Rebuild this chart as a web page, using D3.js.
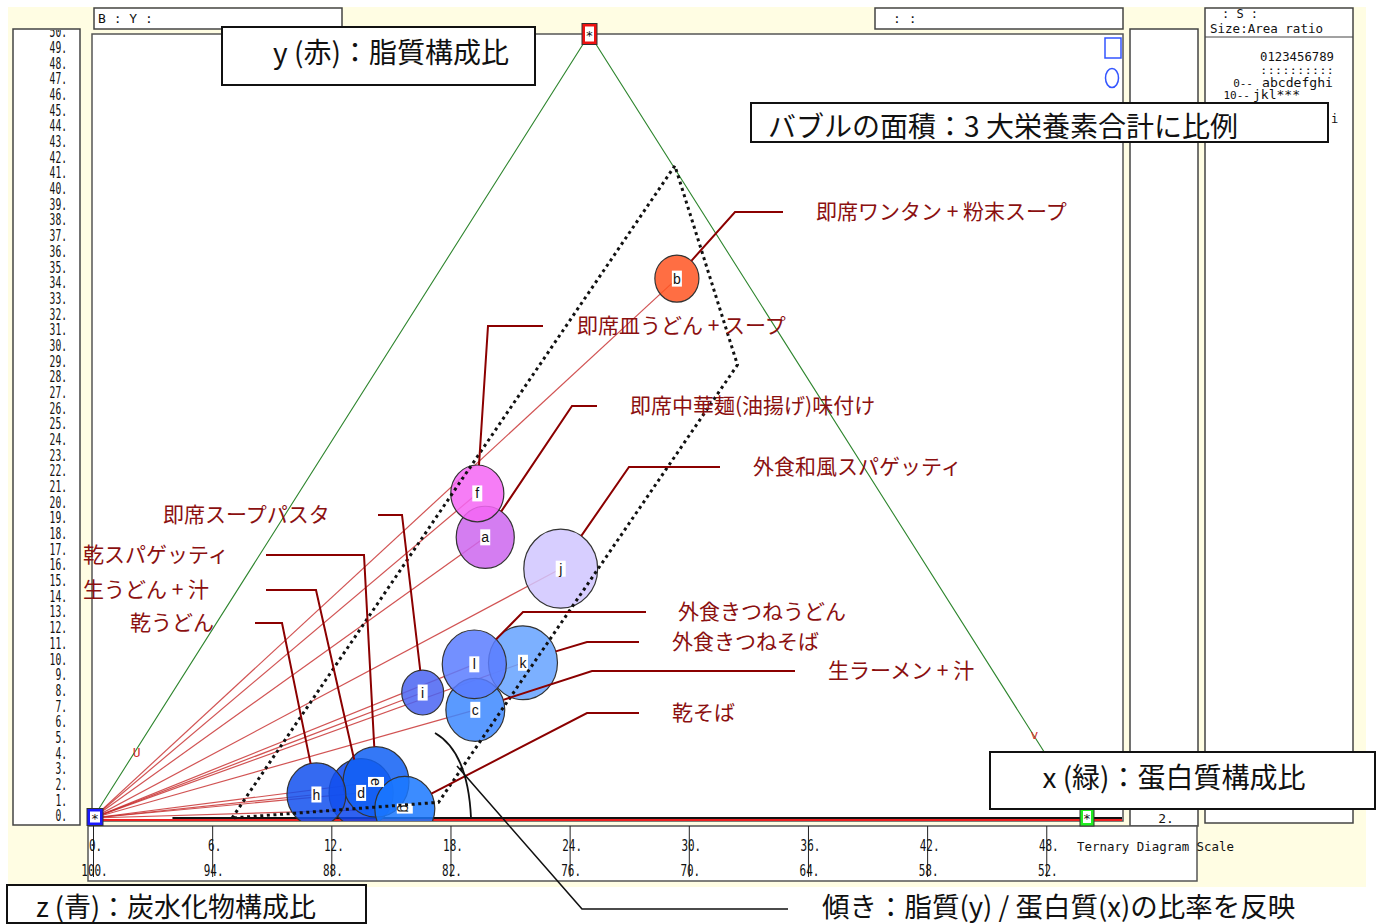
<!DOCTYPE html>
<html>
<head>
<meta charset="utf-8">
<script src="https://cdn.jsdelivr.net/npm/d3@7"></script>
<style>
  body { margin: 0; background: #fff; }
  svg { display: block; }
</style>
</head>
<body>
<div id="chart"></div>
<script>
// 三角図（蛋白質 x・脂質 y・炭水化物 z の構成比）: データ
const codes   = ['a', 'b', 'c', 'd', 'e', 'f', 'g', 'h', 'i', 'j', 'k', 'l'];
const foods   = ['即席中華麺(油揚げ)味付け', '即席ワンタン + 粉末スープ', '生ラーメン + 汁', '生うどん + 汁',
                 '乾スパゲッティ', '即席皿うどん + スープ', '乾そば', '乾うどん', '即席スープパスタ',
                 '外食和風スパゲッティ', '外食きつねそば', '外食きつねうどん'];
const protein = [10.8, 12.2, 15.8, 12.7, 13.1, 9.0, 15.4, 10.5, 12.6, 15.6, 16.7, 14.3];   // x (%)
const fat     = [17.9, 34.4, 6.9, 1.6, 2.3, 20.7, 0.6, 1.5, 8.0, 15.9, 9.9, 9.8];        // y (%)
const nutrientTotal = [73, 42, 75, 89, 94, 61, 78, 75, 38, 118, 103, 89];            // バブル面積

const xTickValues = [0, 6, 12, 18, 24, 30, 36, 42, 48];
const yTickValues = d3.range(0, 51);
// 点線で囲んだ領域 (蛋白質, 脂質)
const regionProtein = [7.0, 8.5, 18.0, 16.9];
const regionFat     = [0, 41.6, 28.9, 1.0];
// 三角形の辺上の印
const edgeMarkText    = ['U', 'v'];
const edgeMarkProtein = [0, 44.65];
const edgeMarkFat     = [4.2, 5.3];

// 配色（スタイル）
const bubbleColors = ['#cc66ee', '#ff5522', '#3d88ff', '#0a45ee', '#1060f5', '#f466f4',
                      '#1a78ff', '#1250ee', '#4a64f2', '#d0c6ff', '#65a2ff', '#5a7cff'];
const labelRed = '#8b1010';

// ラベル配置（レイアウト）: 文字の左端, 線の高さ, 水平線の始点, 折れ点
const callouts = {
  b: { tx: 816, ly: 212, hx: 783, ex: 735 },
  f: { tx: 577, ly: 326, hx: 543, ex: 488 },
  a: { tx: 630, ly: 406, hx: 597, ex: 572 },
  j: { tx: 753, ly: 467, hx: 720, ex: 629 },
  i: { tx: 163, ly: 515, hx: 378, ex: 402 },
  e: { tx: 83,  ly: 555, hx: 266, ex: 364 },
  d: { tx: 83,  ly: 590, hx: 266, ex: 316 },
  h: { tx: 130, ly: 623, hx: 255, ex: 282 },
  l: { tx: 678, ly: 612, hx: 646, ex: 523 },
  k: { tx: 672, ly: 642, hx: 639, ex: 587 },
  c: { tx: 828, ly: 671, hx: 795, ex: 592 },
  g: { tx: 672, ly: 713, hx: 639, ex: 587 }
};

const W = 1383, H = 924;
const mono = '"DejaVu Sans Mono", "Liberation Mono", monospace';
const jp = '"Noto Sans CJK JP", "Noto Sans", sans-serif';

const data = codes.map((c, i) => ({
  code: c, name: foods[i], protein: protein[i], fat: fat[i], total: nutrientTotal[i],
  color: bubbleColors[i]
}));

const svg = d3.select('#chart').append('svg')
  .attr('width', W).attr('height', H)
  .style('font-family', jp);

// 背景
svg.append('rect').attr('width', W).attr('height', H).attr('fill', '#fff');
svg.append('rect').attr('x', 8).attr('y', 7).attr('width', 1358).attr('height', 880).attr('fill', '#fffde3');

// スケール（三角図：横 = x + y/2, 縦 = y）
const x = d3.scaleLinear().domain([0, 50]).range([93, 1086]);
const y = d3.scaleLinear().domain([0, 50]).range([818, 34]);
const r = d3.scaleSqrt().domain([0, 100]).range([0, 34]);
const tx = (p, f) => x(p + f / 2);
const ty = f => y(f);

// パネル枠
function frame(x0, y0, w, h, stroke) {
  return svg.append('rect').attr('x', x0).attr('y', y0).attr('width', w).attr('height', h)
    .attr('fill', '#fff').attr('stroke', stroke || '#444').attr('stroke-width', 1.5);
}
frame(13, 29, 67, 796);
frame(92, 34, 1031, 787, '#555');
frame(1130, 29, 68, 797);
frame(1205, 8, 148, 815);
svg.append('line').attr('x1', 1205).attr('x2', 1353).attr('y1', 37).attr('y2', 37).attr('stroke', '#444');
frame(94, 8, 248, 21);
frame(875, 8, 248, 21);
frame(88, 826, 1109, 55, '#555');

// 細い等幅文字（縦長のビットマップ風に横を詰める）
function squeeze(sel, perChar) {
  sel.each(function () {
    const n = this.textContent.length;
    d3.select(this).attr('textLength', n * perChar).attr('lengthAdjust', 'spacingAndGlyphs');
  });
  return sel;
}

// ヘッダー等の小さい文字
const monoText = (xx, yy, t, size, anchor) => svg.append('text')
  .attr('x', xx).attr('y', yy).attr('dy', '0.35em')
  .attr('text-anchor', anchor || 'start')
  .style('font-family', mono).style('font-size', (size || 12) + 'px').attr('fill', '#111').text(t);
const fit = (sel, len) => sel.attr('textLength', len).attr('lengthAdjust', 'spacingAndGlyphs');
monoText(98, 18, 'B : Y :', 13);
monoText(893, 18, ':   :', 13);
monoText(1240, 14, ': S :', 12, 'middle');
fit(monoText(1210, 28, 'Size:Area ratio', 13), 113);
fit(monoText(1260, 57, '0123456789', 12), 74);
fit(monoText(1260, 70, '::::::::::', 10), 74);
monoText(1253, 83, '0--', 11, 'end');
fit(monoText(1262, 83, 'abcdefghi', 11.5), 71);
monoText(1250, 95, '10--', 11, 'end');
fit(monoText(1253, 95, 'jkl***', 11.5), 47);
monoText(1331, 119, 'i', 12);
monoText(1166, 818, '2.', 13, 'middle');
fit(monoText(1077, 846, 'Ternary Diagram Scale', 13), 157);

// 左の縦軸（脂質 0〜50）
svg.append('clipPath').attr('id', 'leftClip')
  .append('rect').attr('x', 13).attr('y', 30).attr('width', 67).attr('height', 795);
const yAxis = svg.append('g')
  .attr('clip-path', 'url(#leftClip)')
  .append('g')
  .attr('transform', 'translate(70,-2)')
  .call(d3.axisLeft(y).tickValues(yTickValues).tickSize(0).tickPadding(3).tickFormat(d => d + '.'));
yAxis.select('.domain').remove();
yAxis.selectAll('text')
  .style('font-family', mono).style('font-size', '15px')
  .attr('fill', '#111');
squeeze(yAxis.selectAll('text'), 5.8);

// 下の軸（x：蛋白質 / z：炭水化物）
const xAxis = svg.append('g')
  .attr('transform', 'translate(0,826)')
  .call(d3.axisBottom(x).tickValues(xTickValues).tickSize(51).tickFormat(d => d + '.'));
xAxis.select('.domain').remove();
xAxis.selectAll('.tick line').attr('stroke', '#222');
xAxis.selectAll('.tick text').attr('y', 20).attr('dy', '0.35em').attr('dx', 2);
xAxis.selectAll('.tick').append('text')
  .attr('y', 45).attr('dy', '0.35em').attr('dx', 1)
  .attr('text-anchor', 'middle')
  .text(d => (100 - d) + '.');
xAxis.selectAll('text')
  .style('font-family', mono).style('font-size', '15px')
  .attr('fill', '#111');
squeeze(xAxis.selectAll('text'), 6.6);

// プロット領域
svg.append('clipPath').attr('id', 'plotClip')
  .append('rect').attr('x', 93).attr('y', 35).attr('width', 1029).attr('height', 786);
const plot = svg.append('g').attr('clip-path', 'url(#plotClip)');

// 三角形の辺（緑）
const apex = [tx(0, 50), ty(50)], left = [tx(0, 0), ty(0)], right = [tx(50, 0), ty(0)];
plot.append('path')
  .attr('d', d3.line()([left, apex, right]))
  .attr('fill', 'none').attr('stroke', '#2f862f').attr('stroke-width', 1.1);

// 底辺（赤・黒）
plot.append('line')
  .attr('x1', x(4)).attr('x2', 1122).attr('y1', y(0)).attr('y2', y(0))
  .attr('stroke', '#111').attr('stroke-width', 2);
plot.append('line')
  .attr('x1', x(0)).attr('x2', 1122).attr('y1', y(0) + 2).attr('y2', y(0) + 2)
  .attr('stroke', '#ee2222').attr('stroke-width', 2);

// 原点からの傾き線
plot.selectAll('.ray')
  .data(data)
  .enter()
  .append('line')
  .attr('class', 'ray')
  .attr('x1', x(0)).attr('y1', y(0))
  .attr('x2', d => tx(d.protein, d.fat)).attr('y2', d => ty(d.fat))
  .attr('stroke', '#c62828').attr('stroke-opacity', 0.8).attr('stroke-width', 1.2);

// バブル
const ASPECT = 1.07;
plot.selectAll('.bubble')
  .data(data)
  .enter()
  .append('ellipse')
  .attr('class', 'bubble')
  .attr('cx', d => tx(d.protein, d.fat))
  .attr('cy', d => ty(d.fat))
  .attr('rx', d => r(d.total))
  .attr('ry', d => r(d.total) * ASPECT)
  .attr('fill', d => d.color)
  .attr('fill-opacity', 0.85)
  .attr('stroke', '#333')
  .attr('stroke-width', 1.2);

// バブルの記号
const tag = plot.selectAll('.tag')
  .data(data)
  .enter()
  .append('g')
  .attr('class', 'tag')
  .attr('transform', d => {
    const rot = (d.code === 'e' || d.code === 'g') ? ' rotate(90)' : '';
    return `translate(${tx(d.protein, d.fat)},${ty(d.fat)})${rot}`;
  });
tag.append('rect').attr('x', -5).attr('y', -8).attr('width', 10).attr('height', 16).attr('fill', '#fff');
tag.append('text')
  .attr('text-anchor', 'middle').attr('dy', '0.36em')
  .style('font-family', '"Liberation Sans", Arial, sans-serif').style('font-size', '14px')
  .attr('fill', '#111')
  .text(d => d.code);

// 点線の領域
plot.append('path')
  .attr('d', d3.line()(regionProtein.map((p, i) => [tx(p, regionFat[i]), ty(regionFat[i])])) + 'Z')
  .attr('fill', 'none').attr('stroke', '#111').attr('stroke-width', 3)
  .attr('stroke-dasharray', '3 3.6');

// 三角形の辺上の印
edgeMarkText.forEach((t, i) => {
  plot.append('text')
    .attr('x', tx(edgeMarkProtein[i], edgeMarkFat[i]) + 2)
    .attr('y', ty(edgeMarkFat[i]))
    .attr('dy', '0.35em').attr('text-anchor', 'middle')
    .style('font-family', mono).style('font-size', '13px')
    .attr('fill', '#d03030').text(t);
});

// 引き出し線と食品名
data.forEach(d => {
  const c = callouts[d.code];
  const cx = tx(d.protein, d.fat), cy = ty(d.fat);
  const dx = c.ex - cx, dy = c.ly - cy, len = Math.hypot(dx, dy);
  const rad = r(d.total);
  const end = [cx + dx / len * rad, cy + dy / len * rad * ASPECT];
  plot.append('path')
    .attr('d', d3.line()([[c.hx, c.ly], [c.ex, c.ly], end]))
    .attr('fill', 'none').attr('stroke', '#8b0000').attr('stroke-width', 2);
  svg.append('text')
    .attr('x', c.tx).attr('y', c.ly - 2)
    .attr('dominant-baseline', 'central')
    .style('font-size', '21px')
    .attr('fill', labelRed)
    .text(d.name);
});

// 右上の凡例記号
plot.append('rect').attr('x', 1105).attr('y', 38).attr('width', 16).attr('height', 20)
  .attr('fill', 'none').attr('stroke', '#3355ff').attr('stroke-width', 1.5);
plot.append('ellipse').attr('cx', 1112).attr('cy', 78).attr('rx', 6.5).attr('ry', 9.5)
  .attr('fill', 'none').attr('stroke', '#3355ff').attr('stroke-width', 1.5);

// 「傾き」の注記線
svg.append('path').attr('d', 'M435,733 Q468,752 471,818')
  .attr('fill', 'none').attr('stroke', '#111').attr('stroke-width', 1.8);
svg.append('path').attr('d', 'M457,766 L582,909 L788,909')
  .attr('fill', 'none').attr('stroke', '#111').attr('stroke-width', 1.6);

// 頂点の印
function vertexMark(pt, color, w, h) {
  const g = svg.append('g').attr('transform', `translate(${pt[0]},${pt[1]})`);
  g.append('rect').attr('x', -w / 2).attr('y', -h / 2).attr('width', w).attr('height', h)
    .attr('fill', color).attr('stroke', '#333').attr('stroke-width', 1);
  g.append('rect').attr('x', -w / 2 + 3).attr('y', -h / 2 + 3).attr('width', w - 6).attr('height', h - 6)
    .attr('fill', '#fff');
  g.append('text').attr('text-anchor', 'middle').attr('dy', '0.45em')
    .style('font-family', mono).style('font-size', '13px').attr('fill', '#111').text('*');
}
vertexMark(apex, '#ee1111', 15, 21);
vertexMark([left[0] + 2, left[1] - 1], '#1a1aff', 16, 17);
vertexMark([right[0] + 1, right[1] - 1], '#22ee22', 14, 18);

// 注記ボックス
function noteBox(x0, y0, w, h, cx, cy, t, size) {
  svg.append('rect').attr('x', x0).attr('y', y0).attr('width', w).attr('height', h)
    .attr('fill', '#fff').attr('stroke', '#111').attr('stroke-width', 2);
  svg.append('text').attr('x', cx).attr('y', cy).attr('text-anchor', 'middle')
    .attr('dominant-baseline', 'central')
    .style('font-size', (size || 28) + 'px').attr('fill', '#111').text(t);
}
noteBox(222, 27, 313, 58, 391, 51, 'y (赤)：脂質構成比');
noteBox(751, 103, 577, 39, 1003, 125, 'バブルの面積：3 大栄養素合計に比例');
noteBox(990, 752, 385, 57, 1174, 776, 'x (緑)：蛋白質構成比');
noteBox(7, 885, 359, 38, 176, 905, 'z (青)：炭水化物構成比', 27);
svg.append('text').attr('x', 822).attr('y', 905)
  .attr('dominant-baseline', 'central')
  .style('font-size', '27.5px').attr('fill', '#111')
  .text('傾き：脂質(y) / 蛋白質(x)の比率を反映');
</script>
</body>
</html>
